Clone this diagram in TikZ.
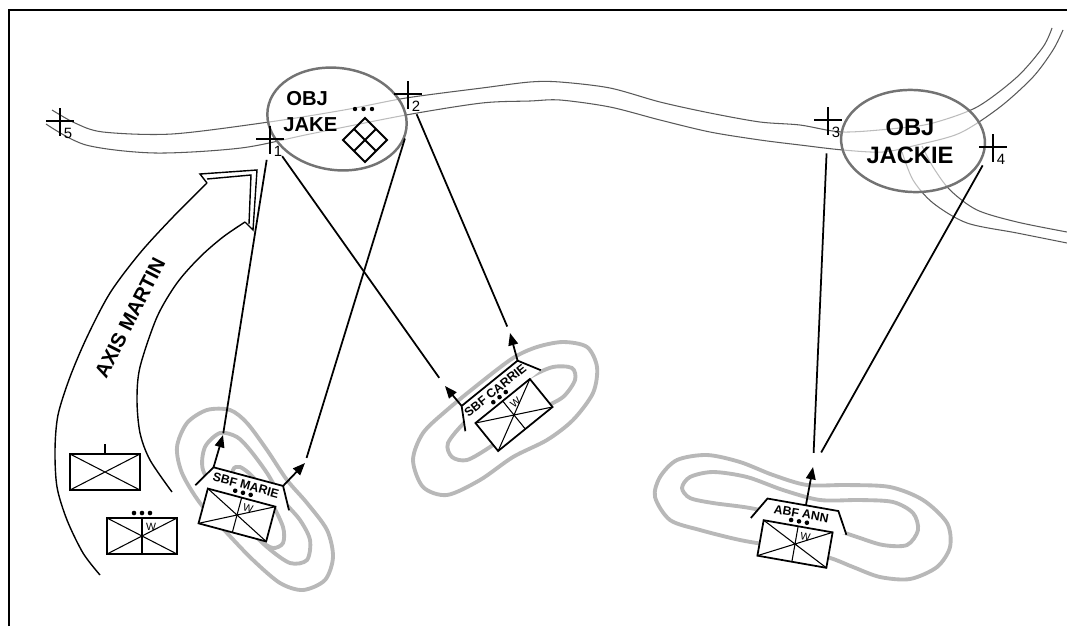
\documentclass[tikz,border=0pt]{standalone}
\usepackage{fontspec}
\setmainfont{Liberation Sans}
\usetikzlibrary{calc,arrows.meta,shapes.geometric}

\tikzset{
  road/.style={draw=black!65, line width=0.6pt},
  contour/.style={draw=black!28, line width=2.2pt},
  objring/.style={ellipse, draw=black!55, line width=1.4pt, fill=white, fill opacity=0.6, inner sep=0},
  unitline/.style={line width=1pt},
  sector/.style={line width=1pt},
  tip/.style={-{Triangle[length=7pt,width=5.5pt]}, line width=1pt},
  cpline/.style={line width=0.9pt},
  cplabel/.style={inner sep=0, font=\fontsize{8.5}{9}\selectfont},
  objtxt/.style={inner sep=0, font=\fontsize{11.5}{13}\selectfont\bfseries},
  bftxt/.style={inner sep=0, font=\fontsize{7}{8}\selectfont\bfseries},
  wtxt/.style={inner sep=0, font=\fontsize{6}{6}\selectfont},
}

% checkpoint cross with its number
\def\checkpoint(#1)#2#3{%
  \begin{scope}[shift={(#1)}]
    \coordinate (#2) at (0,0);
    \draw[cpline] (0,-13) -- (0,15) (-14,0) -- (14,0);
    \node[cplabel] (#2-num) at (8,12) {#3};
  \end{scope}}

% unit frame with the cross
\def\unitbox(#1)#2#3{%
  \begin{scope}[shift={(#1)}, rotate=#2]
    \draw[unitline, fill=white] (-35,-18) rectangle (35,18);
    \draw[line width=0.6pt] (-35,-18) -- (35,18) (-35,18) -- (35,-18);
    \coordinate (#3) at (0,0);
  \end{scope}}

% divider, W and size dots
\def\weapons(#1)#2{%
  \begin{scope}[shift={(#1)}, rotate=#2]
    \draw[line width=0.6pt] (0,-18) -- (0,18);
    \node[wtxt, rotate=#2] at (9,-9) {W};
    \foreach \u in {-8,0,8} \fill (\u,-23) circle (2.3);
  \end{scope}}

% position bracket with its label
\def\bfpos(#1)#2#3#4{%
  \begin{scope}[shift={(#1)}, rotate=#2]
    \draw[unitline, fill=white] (-48,-18) -- (-35,-40) -- (37,-40) -- (49,-18);
    \coordinate (#3-l) at (-35,-40);
    \coordinate (#3-m) at (4,-40);
    \coordinate (#3-r) at (37,-40);
    \node[bftxt, rotate=#2] (#3-lbl) at (1,-31) {#4};
  \end{scope}}

\begin{document}
\begin{tikzpicture}[x=0.02cm, y=-0.02cm]
  %%%%% START %%%%%
  \useasboundingbox (0,0) rectangle (1067,626);
  \draw[line width=1.2pt] (9,626) -- (9,10) -- (1067,10);

  % roads
  \draw[road] plot[smooth] coordinates {(52,110) (75,123) (103,132) (172,134) (269,122) (344,110) (406,98) (482,88) (530,82) (560,82) (610,88) (660,102) (710,113) (760,122) (800,125) (843,132) (900,128) (933,123) (977,107) (1017,77) (1043,47) (1052,28)};
  \draw[road] plot[smooth] coordinates {(46,124) (86,145) (155,153) (241,148) (310,134) (406,115) (482,103) (530,101) (560,100) (610,107) (660,120) (710,132) (760,140) (800,145) (843,150) (883,152) (917,145) (960,133) (1000,107) (1033,77) (1053,50) (1063,30)};
  \draw[road] plot[smooth] coordinates {(922,146) (933,167) (950,190) (977,210) (1017,222) (1067,232)};
  \draw[road] plot[smooth] coordinates {(902,152) (913,180) (933,203) (967,223) (1017,233) (1067,243)};

  % objectives
  \node[objring, rotate=-8, minimum width=2.8cm, minimum height=2.04cm] (jake) at (337,119) {};
  \node[objring, rotate=-3, minimum width=2.88cm, minimum height=2.04cm] (jackie) at (913,141) {};
  \node[objtxt, anchor=base west] (jake-obj) at (286,105) {OBJ};
  \node[objtxt, anchor=base west] (jake-name) at (283,131) {JAKE};
  \foreach \x in {355,363.5,372} \fill (\x,109) circle (2.2);
  \draw[line width=1.1pt] (365,118) -- (387,140) -- (365,162) -- (343,140) -- cycle
    (354,129) -- (376,151) (376,129) -- (354,151);
  \node[objtxt, font=\fontsize{13.5}{15}\selectfont\bfseries, anchor=base] (jackie-obj) at (910,135) {OBJ};
  \node[objtxt, font=\fontsize{13.5}{15}\selectfont\bfseries, anchor=base] (jackie-name) at (910,163) {JACKIE};

  % checkpoints
  \checkpoint(270,139){cp1}{1}
  \checkpoint(408,94){cp2}{2}
  \checkpoint(828,120){cp3}{3}
  \checkpoint(993,147){cp4}{4}
  \checkpoint(60,121){cp5}{5}

  % hills
  \draw[contour] plot[smooth cycle] coordinates {(207,410) (187,423) (177,447) (182,473) (200,503) (227,533) (253,560) (280,583) (303,590) (325,580) (333,557) (327,530) (307,503) (287,480) (267,450) (247,423) (230,410)};
  \draw[contour] plot[smooth cycle] coordinates {(220,433) (205,447) (203,470) (220,497) (243,523) (267,547) (290,563) (307,560) (310,540) (300,520) (283,500) (267,473) (250,450) (237,437)};
  \draw[contour] plot[smooth cycle] coordinates {(240,467) (253,477) (270,500) (283,527) (283,543) (273,548) (260,540) (247,520) (233,490) (233,470)};
  \draw[contour] plot[smooth cycle] coordinates {(413,460) (423,487) (447,495) (480,480) (513,457) (547,440) (573,420) (593,393) (597,367) (587,347) (563,342) (537,347) (513,358) (480,383) (447,410) (423,433)};
  \draw[contour] plot[smooth cycle] coordinates {(448,443) (452,457) (467,460) (490,447) (513,430) (540,410) (563,397) (575,380) (572,368) (553,367) (530,377) (497,397) (467,420)};
  \draw[contour] plot[smooth cycle] coordinates {(655,497) (660,477) (677,460) (707,455) (740,462) (773,475) (807,485) (847,485) (890,487) (923,500) (947,523) (950,547) (937,567) (910,579) (880,577) (853,567) (827,557) (780,547) (740,540) (700,530) (670,520)};
  \draw[contour] plot[smooth cycle] coordinates {(682,488) (690,477) (713,472) (747,477) (783,490) (820,500) (860,500) (893,502) (913,513) (918,530) (907,545) (883,545) (857,537) (827,527) (790,517) (750,508) (713,503) (690,498)};

  % units
  \unitbox(105,472){0}{coA}
  \draw[unitline] (105,454) -- (105,444);
  \unitbox(142,536){0}{coB}
  \weapons(142,536){0}
  \bfpos(237,515){-15}{marie}{SBF MARIE}
  \unitbox(237,515){-15}{marie-box}
  \weapons(237,515){-15}
  \bfpos(514,415){39}{carrie}{SBF CARRIE}
  \unitbox(514,415){39}{carrie-box}
  \weapons(514,415){39}
  \bfpos(795,544){-10}{ann}{ABF ANN}
  \unitbox(795,544){-10}{ann-box}
  \weapons(795,544){-10}

  % sectors of fire
  \coordinate (marie-lt) at (223,435);
  \coordinate (marie-rt) at (305,463);
  \coordinate (carrie-lt) at (445,386);
  \coordinate (carrie-rt) at (510,333);
  \coordinate (ann-t) at (813,467);
  \draw[tip] (marie-l) -- (marie-lt);
  \draw[tip] (marie-r) -- (marie-rt);
  \draw[tip] (carrie-l) -- (carrie-lt);
  \draw[tip] (carrie-r) -- (carrie-rt);
  \draw[tip] (ann-m) -- (ann-t);
  \draw[sector, shorten <=12pt, shorten >=1pt] (cp1) -- (marie-lt);
  \draw[sector, shorten <=12pt, shorten >=5.7pt] (cp1) -- (carrie-lt);
  \draw[sector, shorten >=3pt] (jake.-8) -- (marie-rt);
  \draw[sector, shorten <=12.5pt, shorten >=4pt] (cp2) -- (carrie-rt);
  \draw[sector, shorten <=19pt, shorten >=8pt] (cp3) -- (ann-t);
  \draw[sector, shorten <=12pt, shorten >=9.5pt] (cp4) -- (ann-t);

  % axis
  \draw[line width=0.8pt] plot[smooth] coordinates {(100,575) (83,553) (67,520) (57,487) (55,450) (58,415) (70,377) (87,337) (110,293) (140,253) (173,217) (207,183)};
  \draw[line width=0.8pt] (207,183) -- (200,174) -- (257,170) -- (253,230) -- (245,222);
  \draw[line width=0.8pt] (207,179) -- (251,175) -- (249,224);
  \draw[line width=0.8pt] plot[smooth] coordinates {(245,222) (223,237) (200,257) (177,283) (157,317) (140,367) (137,400) (140,433) (150,460) (172,492)};
  \node[objtxt, rotate=63] (axis-lbl) at (130,318) {AXIS MARTIN};
  %%%%% END %%%%%
\end{tikzpicture}
\end{document}
